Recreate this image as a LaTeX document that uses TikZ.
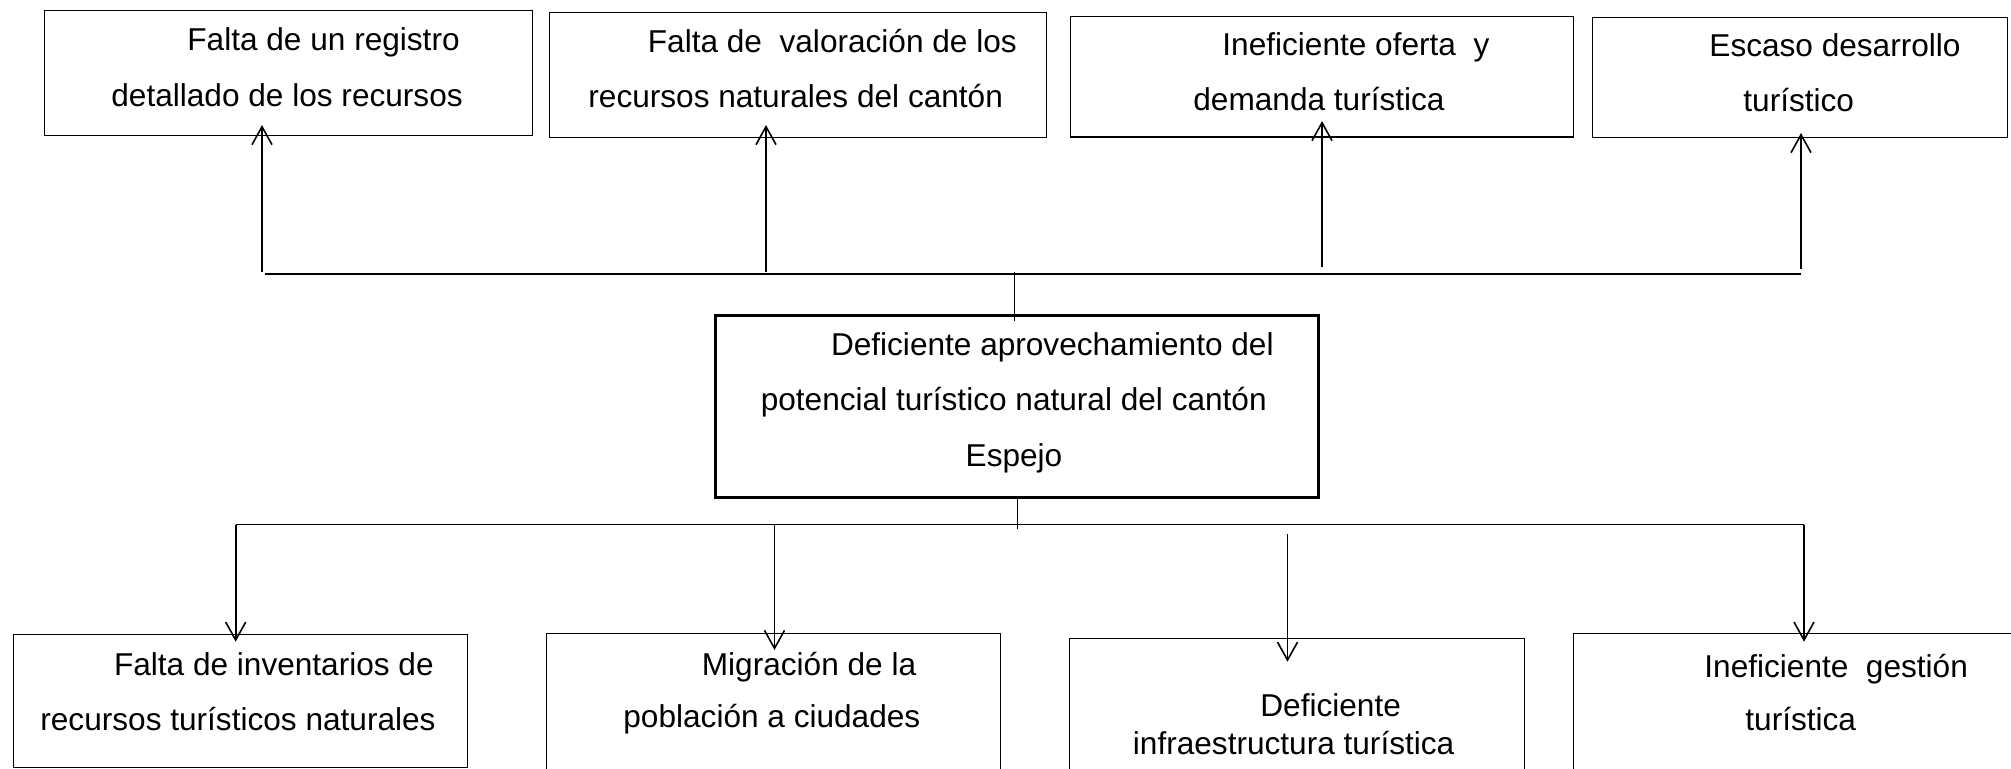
\documentclass[tikz,border=0pt]{standalone}
\usepackage{fontspec}
\setmainfont{Liberation Sans}
\usetikzlibrary{arrows.meta}

\begin{document}
\begin{tikzpicture}[
    x=0.5pt, y=-0.5pt,
    font=\fontsize{15.8}{19}\selectfont,
    box/.style n args={2}{draw, anchor=north west, inner sep=0pt, minimum width=#1, minimum height=#2, line width=0.7pt},
    core/.style={line width=1.4pt},
    thin box/.style={line width=0.55pt},
    lbl/.style={anchor=base west, inner sep=0pt},
    bar/.style={line width=0.9pt},
    stem/.style={line width=0.5pt},
    arrow/.style={-{Straight Barb[length=9pt,width=10pt]}, line width=0.8pt},
]
\useasboundingbox (0,0) rectangle (2011,768);

% upper boxes
\node[box={244.2pt}{62.5pt}] (e1) at (43.5,10) {};
\node[box={248.5pt}{62.5pt}] (e2) at (549,12) {};
\node[box={251.5pt}{60.2pt}] (e3) at (1069.6,15.7) {};
\node[box={207.5pt}{60pt}] (e4) at (1592,16.7) {};

\node[lbl] (e1a) at (187,50.5) {Falta de un registro};
\node[lbl] (e1b) at (111,106.5) {detallado de los recursos};
\node[lbl] (e2a) at (647.5,52.7) {Falta de\ \ valoración de los};
\node[lbl] (e2b) at (588,107.3) {recursos naturales del cantón};
\node[lbl] (e3a) at (1222,55) {Ineficiente oferta\ \ y};
\node[lbl] (e3b) at (1193,110) {demanda turística};
\node[lbl] (e4a) at (1709,56.7) {Escaso desarrollo};
\node[lbl] (e4b) at (1743,111) {turístico};

% central problem
\node[box={301.3pt}{91pt}, core] (prob) at (714.3,314) {};
\node[lbl] (pa) at (830.6,355) {Deficiente aprovechamiento del};
\node[lbl] (pb) at (760.4,410) {potencial turístico natural del cantón};
\node[lbl] (pc) at (965.3,466.7) {Espejo};

% lower boxes
\node[box={227pt}{66.2pt}, thin box] (c1) at (12.6,634.3) {};
\node[box={226.9pt}{80pt}, thin box] (c2) at (545.8,633.3) {};
\node[box={227.5pt}{80pt}, thin box] (c3) at (1068.5,638.3) {};
\node[box={240pt}{80pt}, thin box] (c4) at (1572.5,633.3) {};

\node[lbl] (c1a) at (113.6,675) {Falta de inventarios de};
\node[lbl] (c1b) at (40,730) {recursos turísticos naturales};
\node[lbl] (c2a) at (701.5,675) {Migración de la};
\node[lbl] (c2b) at (623,727.7) {población a ciudades};
\node[lbl] (c3a) at (1260,716) {Deficiente};
\node[lbl] (c3b) at (1132.5,754) {infraestructura turística};
\node[lbl] (c4a) at (1704,677) {Ineficiente\ \ gestión};
\node[lbl] (c4b) at (1745,730) {turística};

% upper connectors
\coordinate (ub0) at (265,274.3);
\coordinate (ub1) at (1801,274.3);
\coordinate (us0) at (1014,272);
\coordinate (us1) at (1014,320.7);
\coordinate (u1) at (262,272);
\coordinate (u2) at (766,272);
\coordinate (u3) at (1322,267);
\coordinate (u4) at (1801,269);
\coordinate (h1) at (262,125);
\coordinate (h2) at (766,125);
\coordinate (h3) at (1322,121);
\coordinate (h4) at (1801,133);

\draw[bar] (ub0) -- (ub1);
\draw[stem] (us0) -- (us1);
\draw[arrow] (u1) -- (h1);
\draw[arrow] (u2) -- (h2);
\draw[arrow] (u3) -- (h3);
\draw[arrow] (u4) -- (h4);

% lower connectors
\coordinate (lb0) at (235.7,524.5);
\coordinate (lb1) at (1804,524.5);
\coordinate (ls0) at (1017.5,495.7);
\coordinate (ls1) at (1017.5,529.3);
\coordinate (d1) at (235.7,524.5);
\coordinate (d2) at (774.5,524.5);
\coordinate (d3) at (1287.5,534);
\coordinate (d4) at (1804,524.5);
\coordinate (k1) at (235.7,641.7);
\coordinate (k2) at (774.5,650);
\coordinate (k3) at (1287.5,661.7);
\coordinate (k4) at (1804,641.7);

\draw[bar] (lb0) -- (lb1);
\draw[stem] (ls0) -- (ls1);
\draw[arrow] (d1) -- (k1);
\draw[arrow] (d2) -- (k2);
\draw[arrow] (d3) -- (k3);
\draw[arrow] (d4) -- (k4);
\end{tikzpicture}
\end{document}
